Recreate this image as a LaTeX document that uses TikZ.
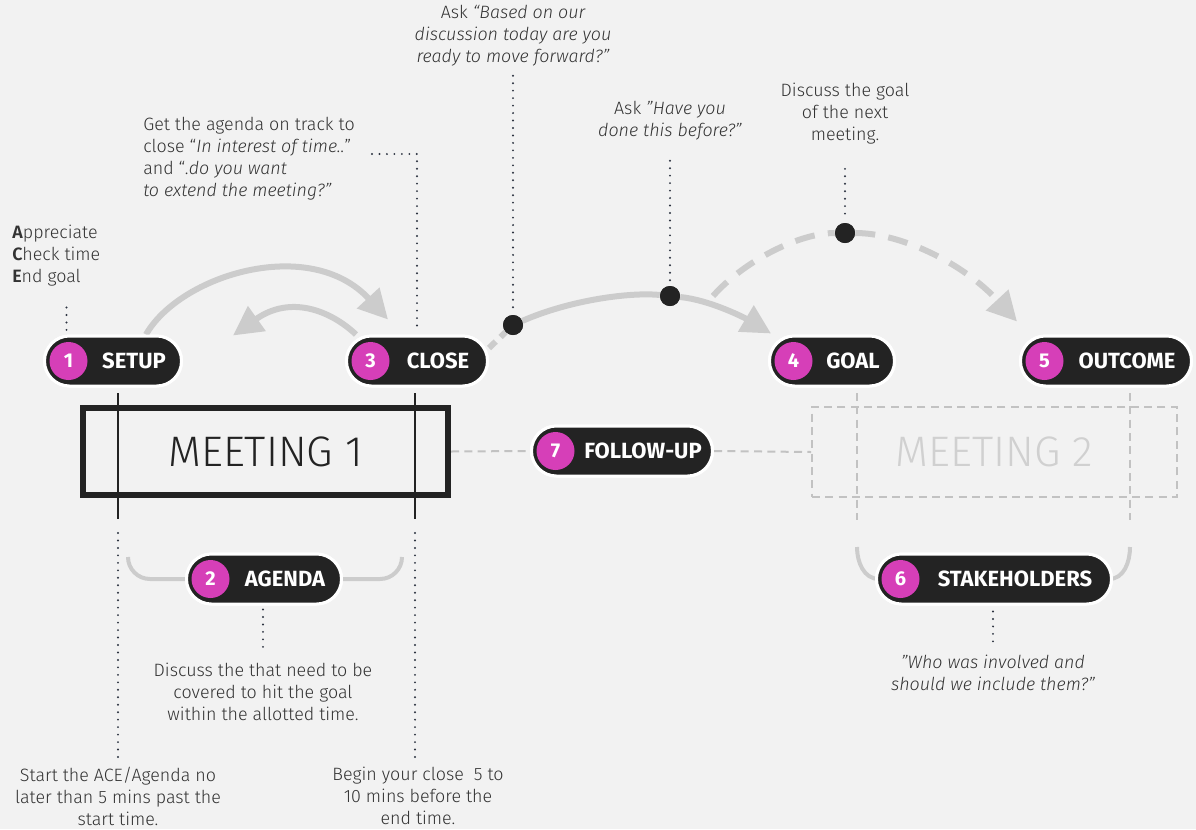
\documentclass[tikz,border=0pt]{standalone}
\usepackage{fontspec}
\setmainfont{Fira Sans}[UprightFont=* Light, ItalicFont=* Light Italic, BoldFont=* SemiBold, BoldItalicFont=* SemiBold Italic]
\newfontfamily\labelfont{Fira Sans}[UprightFont=* Bold]
\usetikzlibrary{arrows.meta,calc}

\definecolor{bg}{HTML}{F2F2F2}
\definecolor{ink}{HTML}{232323}
\definecolor{pinkdot}{HTML}{D63FB8}
\definecolor{flowgray}{HTML}{CCCCCC}
\definecolor{dotink}{HTML}{2C3340}
\definecolor{txt}{HTML}{333333}
\definecolor{ghost}{HTML}{C2C2C2}
\definecolor{ghosttext}{HTML}{D0D0D0}

\tikzset{
  pillbox/.style={fill=ink, draw=white, line width=2.25pt, rounded corners=18.75pt,
    minimum height=37.5pt, inner sep=0pt},
  pillnum/.style={circle, fill=pinkdot, minimum size=28.5pt, inner sep=0pt,
    text=white, font=\labelfont\fontsize{15}{15}\selectfont},
  pilllabel/.style={text=white, inner sep=0pt, font=\labelfont\fontsize{16.5}{16.5}\selectfont},
  note/.style={text=txt, inner sep=0pt, font=\fontsize{13.4}{16.5}\selectfont},
  dots/.style={dotink, line width=1.6pt, line cap=round, dash pattern=on 0pt off 5.6pt},
  flow/.style={flowgray, line width=4.5pt, -{Triangle[length=22pt,width=22pt]}},
  flowdash/.style={flow, dash pattern=on 15pt off 10pt},
  bracket/.style={flowgray, line width=3pt},
  ghostline/.style={draw=ghost, line width=1.5pt, dash pattern=on 6pt off 4pt},
  tick/.style={ink, line width=1.1pt},
  blackdot/.style={circle, fill=ink, minimum size=15pt, inner sep=0pt},
}

% stage pill: name, centre x, centre y, black width, number, label
\newcommand{\stagepill}[6]{%
  \node[pillbox, minimum width=(#4+3)*0.75pt] (#1) at (#2,#3) {};
  \node[pillnum] (#1-num) at ($(#1.west)+(25.5,0)$) {#5};
  \node[pilllabel] (#1-txt) at ($(#1.center)+(21,0)$) {#6};
}

\begin{document}
\begin{tikzpicture}[x=0.75pt,y=-0.75pt]
  \fill[bg] (0,0) rectangle (1196,829);
  \useasboundingbox (0,0) rectangle (1196,829);

  % free ends of the brackets
  \coordinate (agL) at (128,557);
  \coordinate (agR) at (402,557);
  \coordinate (stL) at (857,547);
  \coordinate (stR) at (1130,547);

  % ---- meeting boxes ----
  \node[draw=ink, line width=4.5pt, minimum width=273.75pt, minimum height=65.25pt,
        inner sep=0pt, text=ink, font=\fontsize{32}{32}\selectfont] (m1) at (265.5,451.5) {MEETING 1};
  \node[ghostline, minimum width=273.75pt, minimum height=67.5pt, inner sep=0pt,
        text=ghosttext, font=\fontsize{32}{32}\selectfont] (m2) at (994.5,452) {MEETING 2};

  % ---- pill shapes used by the brackets and links ----
  \node[pillbox, minimum width=(152+3)*0.75pt] (agenda) at (264,579) {};
  \draw[bracket, rounded corners=16.5pt] (agL) |- (agenda.west);
  \draw[bracket, rounded corners=16.5pt] (agenda.east) -| (agR);
  \node[pillbox, minimum width=(232+3)*0.75pt] (stake) at (994,579) {};
  \draw[bracket] (stL) to[out=-90,in=180] ($(stake.west)+(4,0)$);
  \draw[bracket] ($(stake.east)+(-4,0)$) to[out=0,in=-90] (stR);

  % ---- follow-up link ----
  \node[pillbox, minimum width=(178+3)*0.75pt] (followup) at (622,451) {};
  \draw[ghostline] (m1.east) -- (followup.west);
  \draw[ghostline] (followup.east) -- (m2.west);

  % ---- top pills ----
  \node[pillbox, minimum width=(134+3)*0.75pt] (setup) at (113,361) {};
  \node[pillbox, minimum width=(138+3)*0.75pt] (close) at (417,361) {};
  \node[pillbox, minimum width=(122+3)*0.75pt] (goal) at (832,361) {};
  \node[pillbox, minimum width=(168+3)*0.75pt] (outcome) at (1106,361) {};

  % ---- time marks through meeting 1 ----
  \draw[tick] (118,393) -- (118,519);
  \draw[tick] (415,393) -- (415,519);
  % ---- ghost marks through meeting 2 ----
  \draw[ghostline] (857,393) -- (857,520);
  \draw[ghostline] (1130,393) -- (1130,520);

  % ---- flow arrows ----
  \draw[flow] ($(setup.north)+(33,0)$) .. controls (180,275) and (310,235) .. ($(close.north west)+(43,-15)$);
  \draw[flow] ($(close.north west)+(11,0)$) .. controls (330,310) and (290,295) .. ($(setup.north east)+(50,1)$);

  \node[blackdot] (d1) at (513,325) {};
  \node[blackdot] (d2) at (670,296) {};
  \node[blackdot] (d3) at (845,233) {};
  \coordinate (dashstart) at (713,296);

  \draw[flowgray, line width=4.5pt, dash pattern=on 7pt off 5pt] ($(close.east)+(0,-13)$) -- (d1);
  \draw[flow] (d1) .. controls (570,300) and (630,292) .. (d2)
                   .. controls (710,300) and (745,318) .. ($(goal.north west)+(3,-1)$);
  \draw[flowdash] (dashstart) .. controls (745,260) and (800,233) .. (d3)
                   .. controls (900,233) and (962,262) .. ($(outcome.north west)+(-2,-13)$);
  \node[blackdot] at (d1) {};
  \node[blackdot] at (d2) {};
  \node[blackdot] at (d3) {};

  % ---- pills on top ----
  \stagepill{setup}{113}{361}{134}{1}{SETUP}
  \stagepill{close}{417}{361}{138}{3}{CLOSE}
  \stagepill{goal}{832}{361}{122}{4}{GOAL}
  \stagepill{outcome}{1106}{361}{168}{5}{OUTCOME}
  \stagepill{followup}{622}{451}{178}{7}{FOLLOW-UP}
  \stagepill{agenda}{264}{579}{152}{2}{AGENDA}
  \stagepill{stake}{994}{579}{232}{6}{STAKEHOLDERS}

  % ---- notes ----
  \node[note, align=center] (q1) at (513,36)
    {Ask {\itshape “Based on our}\\{\itshape discussion today are you}\\{\itshape ready to move forward?”}};
  \node[note, align=center] (q2) at (670,121)
    {Ask {\itshape ”Have you}\\{\itshape done this before?”}};
  \node[note, align=center] (q3) at (845,114)
    {Discuss the goal\\of the next\\meeting.};
  \node[note, align=left, anchor=west] (q4) at (143,159)
    {Get the agenda on track to\\close “{\itshape In interest of time..}”\\and “{\itshape.do you want}\\{\itshape to extend the meeting?”}};
  \node[note, align=left, anchor=west] (ace) at (12,256)
    {\textbf{A}ppreciate\\\textbf{C}heck time\\\textbf{E}nd goal};
  \node[note, align=center] (agnote) at (263,692)
    {Discuss the that need to be\\covered to hit the goal\\within the allotted time.};
  \node[note, align=center] (startnote) at (118,796)
    {Start the ACE/Agenda no\\later than 5 mins past the\\start time.};
  \node[note, align=center] (closenote) at (418,796)
    {Begin your close~ 5 to\\10 mins before the\\end time.};
  \node[note, align=center] (stnote) at (993,673)
    {\itshape ”Who was involved and\\\itshape should we include them?”};

  % ---- dotted leaders ----
  \coordinate (q4end) at (372,154);
  \draw[dots] ($(q1.south)+(0,9)$) -- ($(d1.north)+(0,-4)$);
  \draw[dots] ($(q2.south)+(0,20)$) -- ($(d2.north)+(0,-4)$);
  \draw[dots] ($(q3.south)+(0,24)$) -- ($(d3.north)+(0,-4)$);
  \draw[dots] (q4end) -| ($(close.north)+(0,-2)$);
  \draw[dots] ($(setup.north west)+(23.5,-27)$) -- ($(setup.north west)+(23.5,-2)$);
  \draw[dots] (118,533) -- ($(startnote.north)+(0,-8)$);
  \draw[dots] (415,533) -- ($(closenote.north -| 415,0)+(0,-8)$);
  \draw[dots] ($(agenda.south)+(-1,4)$) -- ($(agnote.north)+(0,-10)$);
  \draw[dots] ($(stake.south)+(-1,6)$) -- ($(stnote.north)+(0,-10)$);
\end{tikzpicture}
\end{document}
